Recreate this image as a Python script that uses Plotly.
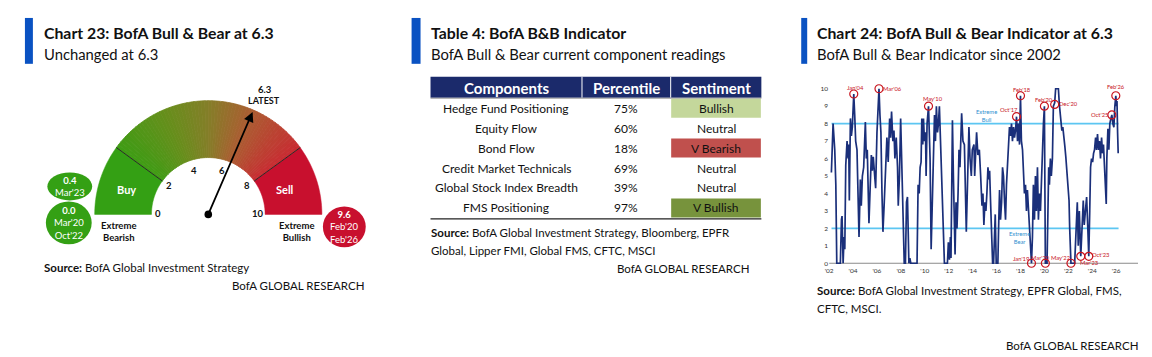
import math
import plotly.graph_objects as go

W, H = 1152, 357
FONT = "Lato"


def X(px):
    return px / W


def Y(py):
    return 1 - py / H


# ---------------- data ----------------
gauge_value = 6.3
gauge_ticks = [0, 2, 4, 6, 8, 10]
buy_level = 2
sell_level = 8
gauge_max = 10
bear_records = ["<b>0.4</b><br>Mar'23", "<b>0.0</b><br>Mar'20<br>Oct'22"]
bull_records = ["<b>9.6</b><br>Feb'20<br>Feb'26"]

table_header = ["Components", "Percentile", "Sentiment"]
components = ["Hedge Fund Positioning", "Equity Flow", "Bond Flow",
              "Credit Market Technicals", "Global Stock Index Breadth", "FMS Positioning"]
percentiles = [75, 60, 18, 69, 39, 97]
sentiments = ["Bullish", "Neutral", "V Bearish", "Neutral", "Neutral", "V Bullish"]

years = [2002.19, 2002.33, 2002.47, 2002.56, 2002.64, 2002.94, 2003.03, 2003.08, 2003.17, 2003.25,
         2003.31, 2003.39, 2003.50, 2003.58, 2003.64, 2003.69, 2003.78, 2003.86, 2003.94, 2004.06,
         2004.14, 2004.22, 2004.33, 2004.42, 2004.50, 2004.61, 2004.69, 2004.78, 2004.89, 2005.03,
         2005.11, 2005.19, 2005.25, 2005.33, 2005.44, 2005.53, 2005.61, 2005.69, 2005.81, 2005.89,
         2006.00, 2006.08, 2006.17, 2006.25, 2006.33, 2006.42, 2006.50, 2006.61, 2006.72, 2006.83,
         2006.94, 2007.06, 2007.14, 2007.22, 2007.33, 2007.42, 2007.50, 2007.61, 2007.72, 2007.78,
         2007.88, 2007.98, 2008.10, 2008.20, 2008.28, 2008.38, 2008.47, 2008.55, 2008.67, 2008.75,
         2008.83, 2009.35, 2009.44, 2009.53, 2009.61, 2009.69, 2009.75, 2009.83, 2009.89, 2009.97,
         2010.06, 2010.11, 2010.19, 2010.31, 2010.44, 2010.53, 2010.64, 2010.72, 2010.81, 2010.89,
         2010.97, 2011.06, 2011.14, 2011.22, 2011.31, 2011.39, 2011.47, 2011.56, 2011.64, 2011.89,
         2011.97, 2012.06, 2012.14, 2012.19, 2012.31, 2012.39, 2012.47, 2012.53, 2012.61, 2012.69,
         2012.78, 2012.86, 2012.94, 2013.08, 2013.19, 2013.31, 2013.47, 2013.56, 2013.69, 2013.78,
         2013.89, 2013.97, 2014.11, 2014.17, 2014.33, 2014.44, 2014.56, 2014.67, 2014.78, 2014.86,
         2014.94, 2015.03, 2015.11, 2015.19, 2015.28, 2015.36, 2015.42, 2015.50, 2015.58, 2015.67,
         2015.75, 2015.81, 2015.89, 2015.97, 2016.11, 2016.17, 2016.25, 2016.33, 2016.42, 2016.50,
         2016.58, 2016.67, 2016.75, 2016.83, 2016.92, 2017.00, 2017.08, 2017.17, 2017.25, 2017.33,
         2017.42, 2017.50, 2017.58, 2017.67, 2017.75, 2017.83, 2017.92, 2018.00, 2018.08, 2018.17,
         2018.25, 2018.33, 2018.42, 2018.50, 2018.58, 2018.67, 2018.75, 2018.83, 2018.92, 2019.00,
         2019.08, 2019.17, 2019.25, 2019.33, 2019.42, 2019.50, 2019.58, 2019.67, 2019.75, 2019.83,
         2019.92, 2020.00, 2020.08, 2020.22, 2020.28, 2020.36, 2020.42, 2020.50, 2020.58, 2020.67,
         2020.75, 2020.86, 2020.94, 2021.17, 2021.25, 2021.38, 2021.46, 2021.54, 2021.61, 2021.71,
         2021.79, 2021.86, 2021.92, 2022.00, 2022.06, 2022.11, 2022.17, 2022.22, 2022.53, 2022.67,
         2022.75, 2022.83, 2022.92, 2023.04, 2023.17, 2023.25, 2023.33, 2023.42, 2023.53, 2023.63,
         2023.71, 2023.79, 2023.86, 2023.94, 2024.03, 2024.11, 2024.19, 2024.28, 2024.36, 2024.44,
         2024.53, 2024.61, 2024.69, 2024.78, 2024.86, 2024.94, 2025.03, 2025.11, 2025.17, 2025.22,
         2025.31, 2025.39, 2025.47, 2025.56, 2025.64, 2025.72, 2025.81, 2025.89, 2025.97, 2026.03,
         2026.07, 2026.12, 2026.17]
values = [5.2, 8.0, 6.5, 4.5, 0.0, 0.0, 2.5, 2.7, 0.0, 1.5,
          0.8, 5.6, 7.0, 6.0, 6.8, 3.6, 8.3, 7.3, 7.8, 9.7,
          8.5, 7.0, 6.5, 4.5, 1.5, 4.8, 3.3, 5.0, 5.5, 8.1,
          6.0, 6.5, 4.0, 2.3, 4.5, 6.2, 5.3, 6.1, 5.0, 4.3,
          7.5, 9.2, 10.0, 8.5, 7.5, 4.0, 1.8, 3.5, 5.5, 7.2,
          5.8, 8.3, 7.2, 8.7, 7.0, 7.6, 6.0, 7.2, 5.5, 3.3,
          5.0, 8.3, 5.0, 2.0, 0.0, 0.0, 3.5, 3.8, 0.0, 0.3,
          0.0, 0.0, 4.5, 4.0, 5.5, 5.8, 8.3, 6.8, 8.3, 7.0,
          7.5, 5.0, 8.0, 9.0, 6.0, 0.8, 4.0, 7.5, 8.5, 7.0,
          9.0, 7.5, 8.0, 9.0, 7.0, 6.0, 3.8, 2.0, 0.0, 0.0,
          1.2, 0.2, 1.5, 0.3, 8.2, 5.0, 3.0, 0.5, 3.5, 2.0,
          4.0, 6.5, 5.5, 8.6, 7.0, 6.8, 1.8, 5.0, 7.8, 6.0,
          5.0, 6.5, 6.8, 5.0, 7.5, 6.2, 6.5, 5.0, 3.3, 4.0,
          2.2, 3.5, 3.0, 4.0, 5.5, 4.8, 5.3, 3.5, 2.0, 0.0,
          0.0, 1.5, 2.8, 0.0, 0.0, 2.0, 4.2, 2.5, 3.5, 5.5,
          5.0, 3.5, 2.5, 4.5, 6.0, 7.5, 7.8, 7.3, 8.0, 7.0,
          7.8, 7.2, 7.6, 8.4, 7.0, 8.0, 6.8, 9.6, 7.0, 6.5,
          5.0, 4.0, 4.5, 3.0, 4.2, 3.0, 2.5, 1.0, 0.0, 1.5,
          4.5, 2.5, 5.0, 3.0, 5.5, 2.5, 4.0, 3.0, 5.0, 7.0,
          8.0, 9.0, 0.0, 0.0, 3.0, 5.5, 4.5, 6.0, 5.0, 6.0,
          9.0, 9.2, 10.0, 10.0, 9.1, 8.0, 7.6, 7.8, 7.1, 6.7,
          6.1, 5.5, 5.0, 4.4, 3.6, 2.1, 0.6, 0.0, 0.0, 2.0,
          3.5, 1.0, 3.0, 0.4, 2.8, 3.6, 2.2, 3.0, 3.8, 2.0,
          0.4, 3.0, 5.5, 6.0, 5.8, 6.3, 6.5, 7.2, 6.5, 7.4,
          6.5, 7.0, 6.0, 7.2, 6.3, 6.8, 5.6, 4.0, 3.4, 6.0,
          7.7, 6.5, 8.0, 8.3, 8.5, 8.0, 7.8, 9.0, 9.6, 9.0,
          9.3, 7.5, 6.3]

tick_years = [2002, 2004, 2006, 2008, 2010, 2012, 2014, 2016, 2018, 2020, 2022, 2024, 2026]
tick_labels = ["'02", "'04", "'06", "'08", "'10", "'12", "'14", "'16", "'18", "'20", "'22", "'24", "'26"]
y_ticks = [0, 1, 2, 3, 4, 5, 6, 7, 8, 9, 10]
extreme_bull = 8
extreme_bear = 2

event_labels = ["Jan'04", "Mar'06", "May'10", "Oct'17", "Feb'18", "Feb'20", "Dec'20",
                "Jan'19", "Mar'20", "May'22", "Mar'23", "Oct'23", "Oct'25", "Feb'26"]
event_years = [2004.06, 2006.17, 2010.31, 2017.67, 2018.00, 2020.00, 2020.86,
               2018.92, 2020.08, 2022.22, 2023.04, 2023.71, 2025.64, 2025.97]
event_values = [9.7, 10.0, 9.0, 8.4, 9.6, 9.0, 9.1,
                0.0, 0.0, 0.0, 0.4, 0.4, 8.5, 9.6]

# ---------------- styles ----------------
BLUE_BAR = "#0A52C2"
NAVY = "#1B2A6B"
LINE_BLUE = "#1A2F7A"
CYAN = "#5CC6F2"
RED_TXT = "#C8141E"
GREEN = "#34A014"
CRIMSON = "#C8102E"
TXT = "#111111"
PAD = 2  # annotation text padding in px

fig = go.Figure()
shapes = []
annots = []


def text(px, py, s, size=12, color=TXT, xanchor="left", yanchor="middle", bold=False, align="left"):
    if xanchor == "left":
        px -= PAD
    elif xanchor == "right":
        px += PAD
    annots.append(dict(x=X(px), y=Y(py), xref="paper", yref="paper", text=(f"<b>{s}</b>" if bold else s),
                       showarrow=False, xanchor=xanchor, yanchor=yanchor, align=align,
                       font=dict(family=FONT, size=size, color=color)))


def rect(x0, y0, x1, y1, color):
    shapes.append(dict(type="rect", xref="paper", yref="paper", x0=X(x0), x1=X(x1), y0=Y(y1), y1=Y(y0),
                       fillcolor=color, line=dict(width=0)))


def hline(x0, x1, y, color, width):
    shapes.append(dict(type="line", xref="paper", yref="paper", x0=X(x0), x1=X(x1), y0=Y(y), y1=Y(y),
                       line=dict(color=color, width=width)))


# ---- headers of three panels ----
panels = [
    (21, 29, 40, "Chart 23: BofA Bull & Bear at 6.3", "Unchanged at 6.3"),
    (409, 418, 428, "Table 4: BofA B&B Indicator", "BofA Bull & Bear current component readings"),
    (800, 806, 816, "Chart 24: BofA Bull & Bear Indicator at 6.3", "BofA Bull & Bear Indicator since 2002"),
]
for bx0, bx1, tx, title, sub in panels:
    rect(bx0, 18, bx1, 64, BLUE_BAR)
    text(tx, 33, title, size=15.8, bold=True)
    text(tx, 54.5, sub, size=14.8)

# ---------------- gauge ----------------
CX, CY = 205, 215
R_IN, R_OUT = 57, 114


def ang(v):
    return math.pi * (1 - v / gauge_max)


def pt(r, v):
    a = ang(v)
    return CX + r * math.cos(a), CY - r * math.sin(a)


def wedge_path(v0, v1, n=12):
    pts = [pt(R_OUT, v0 + (v1 - v0) * i / n) for i in range(n + 1)]
    pts += [pt(R_IN, v1 - (v1 - v0) * i / n) for i in range(n + 1)]
    return "M " + " L ".join(f"{X(px):.5f},{Y(py):.5f}" for px, py in pts) + " Z"


def lerp_color(t):
    stops = [(0.0, (62, 156, 20)), (0.3, (104, 142, 28)), (0.5, (132, 126, 40)),
             (0.72, (172, 92, 50)), (1.0, (200, 44, 50))]
    for (t0, c0), (t1, c1) in zip(stops[:-1], stops[1:]):
        if t <= t1:
            f = (t - t0) / (t1 - t0)
            return "rgb(%d,%d,%d)" % tuple(round(a + (b - a) * f) for a, b in zip(c0, c1))
    return "rgb(%d,%d,%d)" % stops[-1][1]


shapes.append(dict(type="path", xref="paper", yref="paper", path=wedge_path(0, buy_level, 24),
                   fillcolor=GREEN, line=dict(color=GREEN, width=0.5)))
shapes.append(dict(type="path", xref="paper", yref="paper", path=wedge_path(sell_level, gauge_max, 24),
                   fillcolor=CRIMSON, line=dict(color=CRIMSON, width=0.5)))
N = 60
for i in range(N):
    v0 = buy_level + (sell_level - buy_level) * i / N
    v1 = buy_level + (sell_level - buy_level) * (i + 1) / N
    c = lerp_color((i + 0.5) / N)
    shapes.append(dict(type="path", xref="paper", yref="paper", path=wedge_path(v0, v1, 2),
                       fillcolor=c, line=dict(color=c, width=0.8)))
for v in (buy_level, sell_level):
    (ax_, ay_), (bx_, by_) = pt(R_IN, v), pt(R_OUT, v)
    shapes.append(dict(type="line", xref="paper", yref="paper", x0=X(ax_), y0=Y(ay_), x1=X(bx_), y1=Y(by_),
                       line=dict(color="#2a2a2a", width=1)))

for t in gauge_ticks:
    c = abs(math.cos(ang(t)))
    lx, ly = pt(45 + 5 * c * c, t)
    text(lx, ly - 1, str(t), size=9.5, bold=True, xanchor="center")

text(123, 190, "Buy", size=11, color="white", bold=True, xanchor="center")
text(282, 190, "Sell", size=11, color="white", bold=True, xanchor="center")
text(115, 232, "Extreme<br>Bearish", size=9.5, bold=True, xanchor="center", align="center")
text(294, 232, "Extreme<br>Bullish", size=9.5, bold=True, xanchor="center", align="center")

# needle
tipx, tipy = pt(112, gauge_value)
annots.append(dict(x=X(tipx), y=Y(tipy), xref="paper", yref="paper", ax=CX - tipx, ay=CY - tipy,
                   axref="pixel", ayref="pixel", showarrow=True, arrowhead=2, arrowsize=1.1,
                   arrowwidth=1.8, arrowcolor="black", text=""))
shapes.append(dict(type="circle", xref="paper", yref="paper", x0=X(CX - 3.8), x1=X(CX + 3.8),
                   y0=Y(CY + 3.8), y1=Y(CY - 3.8), fillcolor="black", line=dict(width=0)))
text(262, 90, str(gauge_value), size=9.5, bold=True, xanchor="center")
text(261, 101, "LATEST", size=9, bold=True, xanchor="center")

# record bubbles
bubbles = [((43.5, 173, 88.5, 201), bear_records[0], GREEN),
           ((42, 202, 88, 245), bear_records[1], GREEN),
           ((320, 207, 363, 248), bull_records[0], CRIMSON)]
for (x0, y0, x1, y1), s, col in bubbles:
    shapes.append(dict(type="circle", xref="paper", yref="paper", x0=X(x0), x1=X(x1), y0=Y(y1), y1=Y(y0),
                       fillcolor=col, line=dict(width=0)))
    text((x0 + x1) / 2, (y0 + y1) / 2 + 0.5, s, size=9.5, color="white", xanchor="center", align="center")

text(40, 268, "<b>Source:</b> BofA Global Investment Strategy", size=11.5)
text(361, 286, "BofA GLOBAL RESEARCH", size=11.5, xanchor="right")

# ---------------- table ----------------
sent_fill = {"Bullish": "#C4D79B", "V Bearish": "#C0504D", "V Bullish": "#77933C", "Neutral": "white"}
col_edges = [428, 580, 669, 760]
HEAD_TOP, HEAD_BOT, ROW_H = 77, 98, 20
rect(col_edges[0], HEAD_TOP, col_edges[-1], HEAD_BOT, NAVY)
for xe in col_edges[1:-1]:
    shapes.append(dict(type="line", xref="paper", yref="paper", x0=X(xe), x1=X(xe), y0=Y(HEAD_TOP),
                       y1=Y(HEAD_BOT), line=dict(color="white", width=1)))
hline(col_edges[0], col_edges[-1], HEAD_BOT + 0.5, "#9a9a9a", 1)
for j, h in enumerate(table_header):
    text((col_edges[j] + col_edges[j + 1]) / 2, (HEAD_TOP + HEAD_BOT) / 2 + 0.5, h, size=15,
         color="white", bold=True, xanchor="center")
for i, (comp, pct, sent) in enumerate(zip(components, percentiles, sentiments)):
    top = HEAD_BOT + 1 + i * ROW_H
    mid = top + ROW_H / 2 - 0.5
    if sent_fill[sent] != "white":
        rect(col_edges[2] + 0.5, top, col_edges[3] - 0.5, top + ROW_H - 1, sent_fill[sent])
    cells = [comp, f"{pct}%", sent]
    for j, s in enumerate(cells):
        text((col_edges[j] + col_edges[j + 1]) / 2, mid, s, size=12, xanchor="center")
hline(col_edges[0], col_edges[-1], HEAD_BOT + 1 + len(components) * ROW_H + 0.5, "#222", 1.2)

text(428, 233, "<b>Source:</b> BofA Global Investment Strategy, Bloomberg, EPFR", size=11.5)
text(428, 251, "Global, Lipper FMI, Global FMS, CFTC, MSCI", size=11.5)
text(748, 269, "BofA GLOBAL RESEARCH", size=11.5, xanchor="right")

# ---------------- line chart ----------------
fig.add_trace(go.Scatter(x=years, y=values, mode="lines", line=dict(color=LINE_BLUE, width=1.7),
                         hoverinfo="skip", showlegend=False, xaxis="x", yaxis="y"))
fig.add_trace(go.Scatter(x=event_years, y=event_values, mode="markers", cliponaxis=False,
                         marker=dict(symbol="circle-open", size=8, color=RED_TXT, line=dict(width=1.2)),
                         hoverinfo="skip", showlegend=False, xaxis="x", yaxis="y"))
for lvl in (extreme_bull, extreme_bear):
    shapes.append(dict(type="line", xref="x", yref="y", x0=2002.2, x1=2026.2, y0=lvl, y1=lvl,
                       line=dict(color=CYAN, width=1.7), layer="below"))
shapes.append(dict(type="line", xref="x", yref="y", x0=2002, x1=2027.83, y0=0, y1=0,
                   line=dict(color="#8a8a8a", width=1), layer="below"))

shifts = {"Jan'04": (2, 6.5), "Mar'06": (14, 0), "May'10": (4, 8), "Oct'17": (-8, 7),
          "Feb'18": (2, 6.5), "Feb'20": (0, 6.5), "Dec'20": (14, 1), "Jan'19": (-10, 4.5),
          "Mar'20": (-5, 5.5), "May'22": (-10, 5.5), "Mar'23": (9, -6), "Oct'23": (12, 2),
          "Oct'25": (-12, 0), "Feb'26": (0, 9.5)}
for lab, ex, ev in zip(event_labels, event_years, event_values):
    dx, dy = shifts[lab]
    annots.append(dict(x=ex, y=ev, xref="x", yref="y", text=lab, showarrow=False, xshift=dx, yshift=dy,
                       borderpad=0, font=dict(family=FONT, size=5.8, color=RED_TXT)))
annots.append(dict(x=2015.15, y=8.45, xref="x", yref="y", text="Extreme<br>Bull", showarrow=False,
                   borderpad=0, font=dict(family=FONT, size=5.8, color="#2E8FD0")))
annots.append(dict(x=2017.9, y=1.5, xref="x", yref="y", text="Extreme<br>Bear", showarrow=False,
                   borderpad=0, font=dict(family=FONT, size=5.8, color="#2E8FD0")))

text(816, 291, "<b>Source:</b> BofA Global Investment Strategy, EPFR Global, FMS,", size=11.5)
text(816, 309, "CFTC, MSCI.", size=11.5)
text(1138, 346, "BofA GLOBAL RESEARCH", size=11.5, xanchor="right")

fig.update_layout(
    width=W, height=H, margin=dict(l=0, r=0, t=0, b=0),
    paper_bgcolor="white", plot_bgcolor="rgba(0,0,0,0)", showlegend=False,
    font=dict(family=FONT, color=TXT),
    xaxis=dict(domain=[X(828), X(1138)], range=[2002, 2027.83], tickvals=tick_years, ticktext=tick_labels,
               tickfont=dict(size=6.5, color="#333"), ticks="", showgrid=False, zeroline=False,
               showline=False, fixedrange=True),
    yaxis=dict(domain=[Y(266.1), Y(78.5)], range=[-0.12, 10.6], tickvals=y_ticks,
               tickfont=dict(size=6.5, color="#333"), ticks="", showgrid=False, zeroline=False,
               showline=False, fixedrange=True),
    shapes=shapes, annotations=annots,
)

fig.write_html("out.html", config={"displayModeBar": False, "staticPlot": True},
               post_script="document.body.style.margin='0px';document.body.style.overflow='hidden';")
